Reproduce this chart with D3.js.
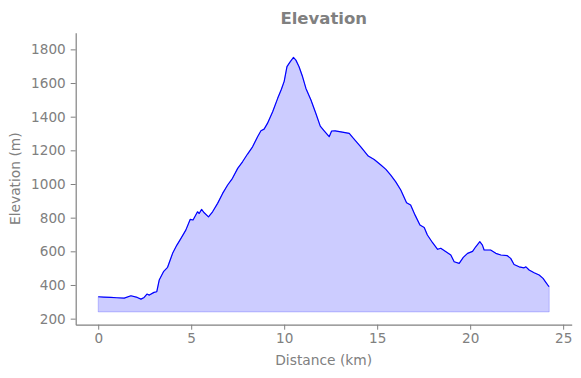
<!DOCTYPE html>
<html>
<head>
<meta charset="utf-8">
<script src="https://cdn.jsdelivr.net/npm/d3@7"></script>
<style>
  html, body { margin: 0; padding: 0; background: #fff; }
  svg { display: block; }
  text { font-family: "DejaVu Sans", sans-serif; }
</style>
</head>
<body>
<svg id="chart" width="581" height="378"></svg>
<script>
const distanceKm = [0.0,0.3,0.68,1.0,1.4,1.76,2.1,2.3,2.47,2.62,2.75,3.0,3.15,3.28,3.51,3.73,4.0,4.23,4.45,4.71,4.95,5.1,5.34,5.43,5.56,5.7,5.93,6.15,6.42,6.69,6.96,7.22,7.5,7.76,8.03,8.3,8.57,8.75,8.92,9.1,9.38,9.65,9.85,10.0,10.15,10.32,10.5,10.63,10.8,10.99,11.17,11.44,11.7,11.94,12.15,12.42,12.55,12.74,13.05,13.5,13.68,14.12,14.52,14.84,15.2,15.47,15.73,16.0,16.27,16.58,16.8,17.04,17.3,17.53,17.7,17.98,18.25,18.42,18.7,18.96,19.14,19.41,19.63,19.86,20.13,20.3,20.52,20.66,20.75,21.1,21.38,21.65,22.0,22.18,22.36,22.63,22.9,23.0,23.17,23.44,23.71,23.92,24.07,24.21,24.25];
const elevationM = [330,328,326,324,322,336,326,316,326,346,340,356,360,429,479,505,588,637,677,726,790,786,835,825,849,829,805,835,885,944,994,1034,1093,1132,1178,1221,1281,1316,1326,1360,1429,1509,1563,1610,1697,1726,1752,1736,1697,1637,1568,1499,1420,1344,1316,1281,1315,1316,1310,1301,1277,1221,1166,1146,1113,1087,1053,1013,964,889,875,815,756,742,697,651,612,618,597,578,538,528,564,588,600,627,657,637,608,608,588,578,574,558,522,508,502,508,489,473,459,439,416,394,390];
const fillBase = 240;
const xTicks = [0,5,10,15,20,25];
const yTicks = [200,400,600,800,1000,1200,1400,1600,1800];

const data = distanceKm.map((d,i)=>({d, e: elevationM[i]}));
const gray = "#808080";
const svg = d3.select("#chart");
const L = 75.7, R = 571.7, T = 32.7, B = 324.7;

const x = d3.scaleLinear().domain([-1.21, 25.46]).range([L, R]);
const y = d3.scaleLinear().domain([164, 1899]).range([B, T]);

const area = d3.area().x(p=>x(p.d)).y0(y(fillBase)).y1(p=>y(p.e));
svg.append("path").datum(data).attr("d", area)
  .attr("fill", "blue").attr("fill-opacity", 0.2)
  .attr("stroke", "blue").attr("stroke-opacity", 0.2).attr("stroke-width", 1);

const line = d3.line().x(p=>x(p.d)).y(p=>y(p.e));
svg.append("path").datum(data).attr("d", line)
  .attr("fill", "none").attr("stroke", "blue").attr("stroke-width", 1.2)
  .attr("stroke-linejoin", "round");

const xAxis = svg.append("g").attr("transform", `translate(0,${B})`)
  .call(d3.axisBottom(x).tickValues(xTicks).tickFormat(d3.format("d")).tickSize(5).tickPadding(4).tickSizeOuter(0));
const yAxis = svg.append("g").attr("transform", `translate(${L},0)`)
  .call(d3.axisLeft(y).tickValues(yTicks).tickFormat(d3.format("d")).tickSize(5).tickPadding(5).tickSizeOuter(0));
[xAxis, yAxis].forEach(g=>{
  g.select(".domain").attr("stroke", gray).attr("stroke-width", 1.2);
  g.selectAll(".tick line").attr("stroke", gray).attr("stroke-width", 1);
  g.selectAll(".tick text").attr("fill", gray).style("font-size", "13.6px")
    .style("font-family", "DejaVu Sans, sans-serif");
});

svg.append("text").attr("x", (L+R)/2).attr("y", 365).attr("text-anchor", "middle")
  .attr("fill", gray).style("font-size", "13.8px").text("Distance (km)");
svg.append("text").attr("transform", `translate(20,${(T+B)/2}) rotate(-90)`)
  .attr("text-anchor", "middle").attr("fill", gray).style("font-size", "13.8px")
  .text("Elevation (m)");
svg.append("text").attr("x", (L+R)/2).attr("y", 24).attr("text-anchor", "middle")
  .attr("fill", gray).style("font-size", "16.5px").style("font-weight", "bold")
  .text("Elevation");
</script>
</body>
</html>
